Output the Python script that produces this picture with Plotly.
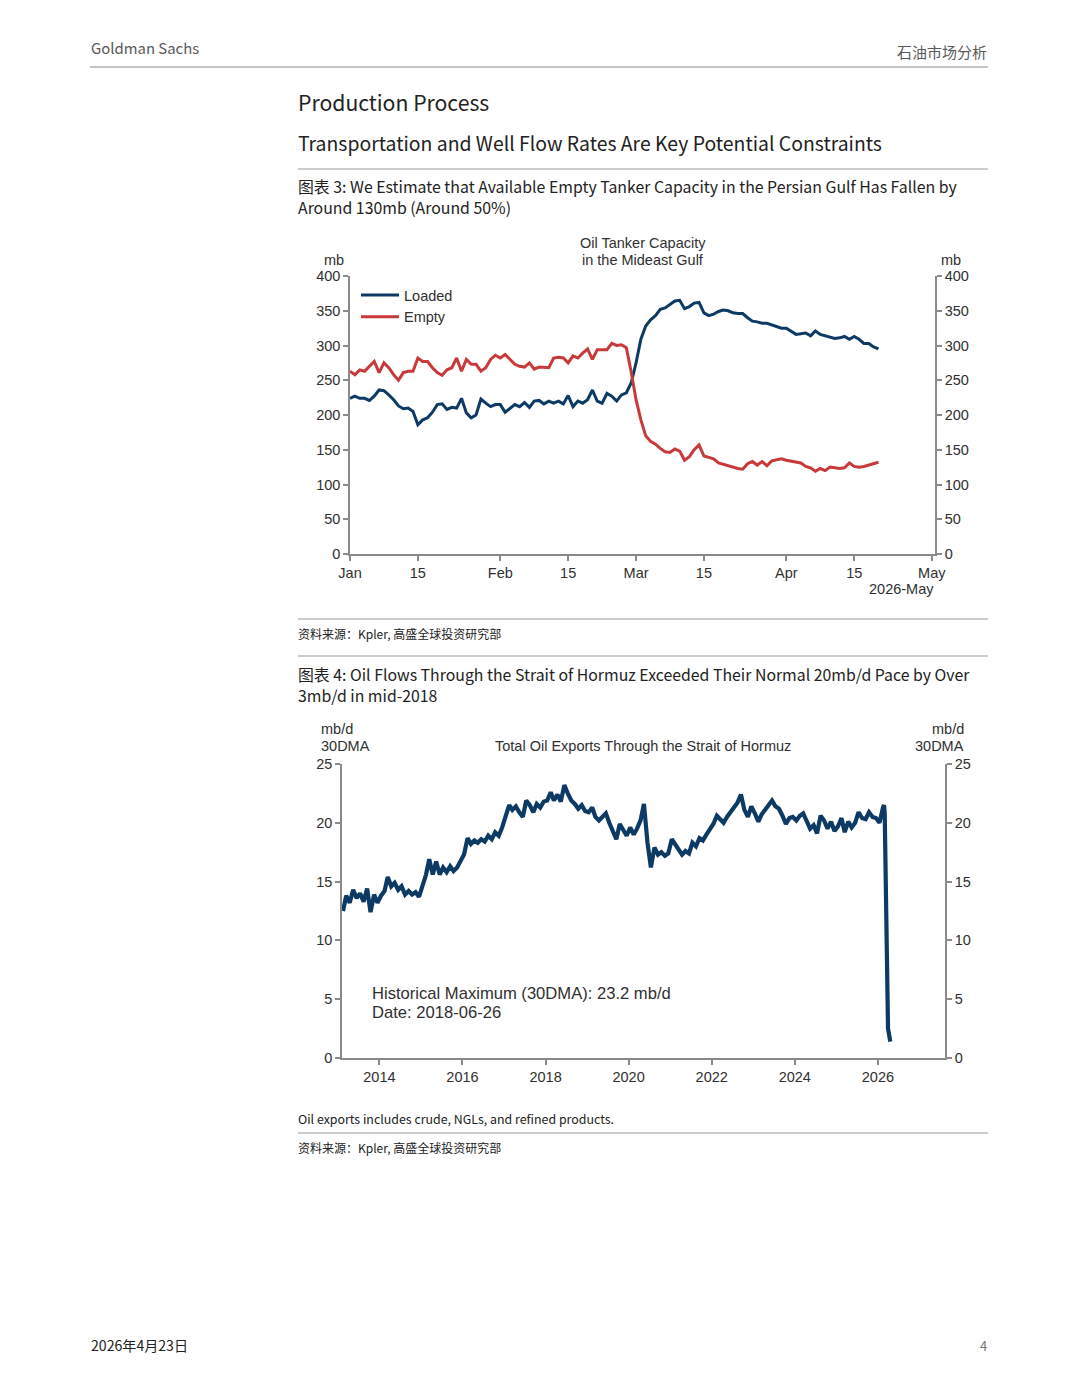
import plotly.graph_objects as go
import pandas as pd

# ---------------- Chart 1 data (daily, 2026-01-01 .. 2026-04-20), mb ----------------
tanker_start = "2026-01-01"
loaded = [224, 227, 224, 224, 221, 227, 236, 235, 229, 222,
          213, 209, 210, 205, 186, 193, 196, 204, 215, 216,
          208, 211, 210, 224, 203, 196, 200, 223, 217, 212,
          215, 215, 204, 210, 215, 212, 218, 211, 220, 221,
          216, 220, 217, 220, 216, 228, 212, 220, 217, 222,
          236, 220, 217, 231, 227, 220, 229, 232, 246, 275,
          309, 328, 337, 343, 352, 354, 359, 364, 365, 353,
          356, 361, 362, 347, 343, 345, 349, 351, 350, 347,
          346, 346, 340, 335, 334, 332, 332, 330, 328, 325,
          325, 321, 316, 317, 318, 314, 321, 316, 314, 311,
          310, 311, 313, 309, 313, 309, 303, 303, 298, 295]
empty = [263, 258, 265, 263, 270, 277, 261, 275, 268, 258,
         250, 261, 263, 263, 282, 277, 277, 268, 261, 257,
         265, 268, 282, 263, 280, 273, 273, 263, 268, 280,
         286, 282, 287, 280, 273, 270, 269, 275, 266, 269,
         268, 268, 282, 283, 282, 275, 285, 282, 289, 295,
         280, 294, 294, 294, 303, 300, 301, 297, 262, 222,
         193, 170, 162, 158, 152, 147, 146, 151, 148, 135,
         140, 150, 157, 141, 139, 137, 131, 129, 127, 124,
         123, 122, 130, 133, 128, 133, 127, 134, 135, 137,
         135, 134, 133, 131, 126, 124, 119, 123, 120, 125,
         124, 123, 124, 131, 126, 125, 126, 128, 130, 132]
tanker_tickvals = ["2026-01-01", "2026-01-15", "2026-02-01", "2026-02-15", "2026-03-01",
                   "2026-03-15", "2026-04-01", "2026-04-15", "2026-05-01"]
tanker_ticktext = ["Jan", "15", "Feb", "15", "Mar", "15", "Apr", "15", "May"]

# ---------------- Chart 2 data (30DMA, mb/d) ----------------
hormuz_first_month = "2013-02-01"
hormuz_last_month = "2026-02-01"
hormuz_monthly = [
    12.5, 13.8, 13.2, 14.3, 13.6, 14.0, 13.3, 14.4, 12.4, 13.9, 13.2,          # 2013 Feb-Dec
    13.8, 14.2, 15.4, 14.6, 14.9, 14.3, 14.6, 13.9, 14.2, 13.9, 14.1, 13.7,    # 2014
    14.6, 15.6, 16.9, 15.6, 16.7, 15.6, 16.2, 15.8, 16.3, 15.9, 16.2, 16.8,    # 2015
    17.3, 18.7, 18.2, 18.5, 18.3, 18.6, 18.4, 18.9, 18.6, 19.2, 18.9, 19.6,    # 2016
    20.6, 21.5, 21.1, 21.4, 20.9, 20.5, 21.9, 21.5, 20.9, 21.6, 21.3, 21.8,    # 2017
    21.9, 22.6, 21.9, 22.4, 21.8, 23.2, 22.5, 21.9, 21.6, 21.2, 21.5, 21.0,    # 2018
    20.9, 21.3, 20.5, 20.2, 20.5, 20.8, 20.0, 19.3, 18.6, 19.9, 19.3, 18.9,    # 2019
    19.6, 19.0, 19.5, 20.2, 21.6, 18.3, 16.2, 17.9, 17.3, 17.5, 17.2, 17.4,    # 2020
    18.6, 18.2, 17.7, 17.3, 17.6, 17.4, 18.3, 18.0, 18.7, 18.5, 19.0, 19.5,    # 2021
    19.9, 20.6, 20.3, 20.0, 20.5, 20.9, 21.2, 21.7, 22.4, 21.1, 20.5, 21.4,    # 2022
    20.8, 20.1, 20.7, 21.1, 21.6, 21.9, 21.4, 21.2, 20.6, 19.9, 20.4, 20.5,    # 2023
    20.2, 20.6, 20.8, 20.1, 19.5, 19.8, 19.1, 20.6, 20.2, 19.5, 20.1, 19.3,    # 2024
    19.7, 20.4, 19.2, 20.1, 19.6, 20.0, 20.9, 20.4, 20.3, 20.9, 20.5, 20.4,    # 2025
    20.0, 21.3,                                                                # 2026 Jan-Feb
]
hormuz_tail_dates = ["2026-02-24", "2026-03-02", "2026-03-31", "2026-04-20"]
hormuz_tail = [21.5, 20.8, 2.5, 1.4]
hormuz_tickvals = ["2014-01-01", "2016-01-01", "2018-01-01", "2020-01-01",
                   "2022-01-01", "2024-01-01", "2026-01-01"]
hormuz_ticktext = ["2014", "2016", "2018", "2020", "2022", "2024", "2026"]

# ---------------- build ----------------
W, H = 1080, 1398
OFF = 8  # page body margin of the HTML page
def X(px): return (px - OFF) / W
def Y(py): return 1 - (py - OFF) / H

BLUE = "#0d3a64"
RED = "#c8393b"
AX = "#8a8a8a"
TXT = "#303030"
DOCTXT = "#222222"
CH_FONT = "Liberation Sans, Arial, sans-serif"
DOC_FONT = "Noto Sans CJK SC, Noto Sans, sans-serif"
CH_SIZE = 14.5

tanker_dates = pd.date_range(tanker_start, periods=len(loaded), freq="D")
hm_dates = list(pd.date_range(hormuz_first_month, hormuz_last_month, freq="MS") + pd.Timedelta(days=14))
hm_x = hm_dates + list(pd.to_datetime(hormuz_tail_dates))
hm_y = hormuz_monthly + hormuz_tail

fig = go.Figure()
fig.add_trace(go.Scatter(x=tanker_dates, y=loaded, name="Loaded", mode="lines",
                         line=dict(color=BLUE, width=3), xaxis="x", yaxis="y", legendgroup="a"))
fig.add_trace(go.Scatter(x=tanker_dates, y=empty, name="Empty", mode="lines",
                         line=dict(color=RED, width=3), xaxis="x", yaxis="y2", legendgroup="b"))
fig.add_trace(go.Scatter(x=hm_x, y=hm_y, name="Hormuz", mode="lines", showlegend=False,
                         line=dict(color=BLUE, width=4.2), xaxis="x2", yaxis="y3"))
fig.add_trace(go.Scatter(x=[], y=[], showlegend=False, hoverinfo="skip", xaxis="x2", yaxis="y4"))

ax_common = dict(showline=True, linecolor=AX, linewidth=1.5, ticks="outside", ticklen=5,
                 tickcolor=AX, tickwidth=1.5, showgrid=False, zeroline=False, automargin=False,
                 tickfont=dict(family=CH_FONT, size=CH_SIZE, color=TXT))

fig.update_layout(
    width=W, height=H, margin=dict(l=0, r=0, t=0, b=0, pad=0, autoexpand=False),
    paper_bgcolor="white", plot_bgcolor="white",
    font=dict(family=CH_FONT, color=TXT),
    showlegend=True,
    legend=dict(x=X(356), y=Y(279), xanchor="left", yanchor="top", bgcolor="rgba(0,0,0,0)",
                font=dict(family=CH_FONT, size=CH_SIZE, color=TXT), tracegroupgap=2,
                traceorder="normal", itemwidth=38),
    xaxis=dict(domain=[X(350), X(935)], anchor="y", type="date",
               range=["2026-01-01", "2026-05-01 16:00"],
               tickvals=tanker_tickvals, ticktext=tanker_ticktext, **ax_common),
    yaxis=dict(domain=[Y(554), Y(276)], anchor="x", range=[0, 400], dtick=50, **ax_common),
    yaxis2=dict(overlaying="y", anchor="x", side="right", range=[0, 400], dtick=50, **ax_common),
    xaxis2=dict(domain=[X(342), X(945)], anchor="y3", type="date",
                range=["2013-02-06", "2027-08-14"],
                tickvals=hormuz_tickvals, ticktext=hormuz_ticktext, **ax_common),
    yaxis3=dict(domain=[Y(1058), Y(764)], anchor="x2", range=[0, 25], dtick=5, **ax_common),
    yaxis4=dict(overlaying="y3", anchor="x2", side="right", range=[0, 25], dtick=5, **ax_common),
)

ann = []
def txt(s, x, y, size, xanchor="left", font=DOC_FONT, color=TXT):
    ann.append(dict(text=s, x=X(x), y=Y(y), xref="paper", yref="paper", showarrow=False,
                    xanchor=xanchor, yanchor="middle", align=xanchor if xanchor != "center" else "center",
                    font=dict(family=font, size=size, color=color)))

# page header / document text
txt("Goldman Sachs", 89, 47, 14.9, color="#5a5a5a")
txt("石油市场分析", 989, 51, 15, xanchor="right", color="#5a5a5a")
txt("Production Process", 296, 101, 21.2, color=DOCTXT)
txt("Transportation and Well Flow Rates Are Key Potential Constraints", 296, 143, 19.4, color=DOCTXT)
txt("图表 3: We Estimate that Available Empty Tanker Capacity in the Persian Gulf Has Fallen by<br>"
    "Around 130mb (Around 50%)", 296, 197, 15.85, color=DOCTXT)
txt("资料来源：Kpler, 高盛全球投资研究部", 296, 633, 12, color=DOCTXT)
txt("图表 4: Oil Flows Through the Strait of Hormuz Exceeded Their Normal 20mb/d Pace by Over<br>"
    "3mb/d in mid-2018", 296, 685, 15.85, color=DOCTXT)
txt("Oil exports includes crude, NGLs, and refined products.", 296, 1119, 12.4, color=DOCTXT)
txt("资料来源：Kpler, 高盛全球投资研究部", 296, 1147, 12, color=DOCTXT)
txt("2026年4月23日", 89, 1345, 14.1, color=DOCTXT)
txt("4", 989, 1345, 13, xanchor="right", color="#777777")

# chart 1 texts
txt("Oil Tanker Capacity", 643, 243, CH_SIZE, xanchor="center", font=CH_FONT)
txt("in the Mideast Gulf", 643, 260, CH_SIZE, xanchor="center", font=CH_FONT)
txt("mb", 334, 260, CH_SIZE, xanchor="center", font=CH_FONT)
txt("mb", 951, 260, CH_SIZE, xanchor="center", font=CH_FONT)
txt("2026-May", 902, 589, CH_SIZE, xanchor="center", font=CH_FONT)

# chart 2 texts
txt("mb/d", 319, 729, CH_SIZE, font=CH_FONT)
txt("30DMA", 319, 746, CH_SIZE, font=CH_FONT)
txt("mb/d", 966, 729, CH_SIZE, xanchor="right", font=CH_FONT)
txt("30DMA", 966, 746, CH_SIZE, xanchor="right", font=CH_FONT)
txt("Total Oil Exports Through the Strait of Hormuz", 643, 746, CH_SIZE, xanchor="center", font=CH_FONT)
txt("Historical Maximum (30DMA): 23.2 mb/d", 370, 993, 16.6, font=CH_FONT)
txt("Date: 2018-06-26", 370, 1012, 16.6, font=CH_FONT)

fig.update_layout(annotations=ann)

shapes = []
def hline(y, x0, x1, color="#9a9a9a", w=1.2):
    shapes.append(dict(type="line", xref="paper", yref="paper", x0=X(x0), x1=X(x1),
                       y0=Y(y), y1=Y(y), line=dict(color=color, width=w)))
hline(67, 90, 988, "#8a8a8a")
hline(169, 298, 988)
hline(619, 298, 988)
hline(656, 298, 988)
hline(1133, 298, 988)
fig.update_layout(shapes=shapes)

fig.write_html("out.html")
